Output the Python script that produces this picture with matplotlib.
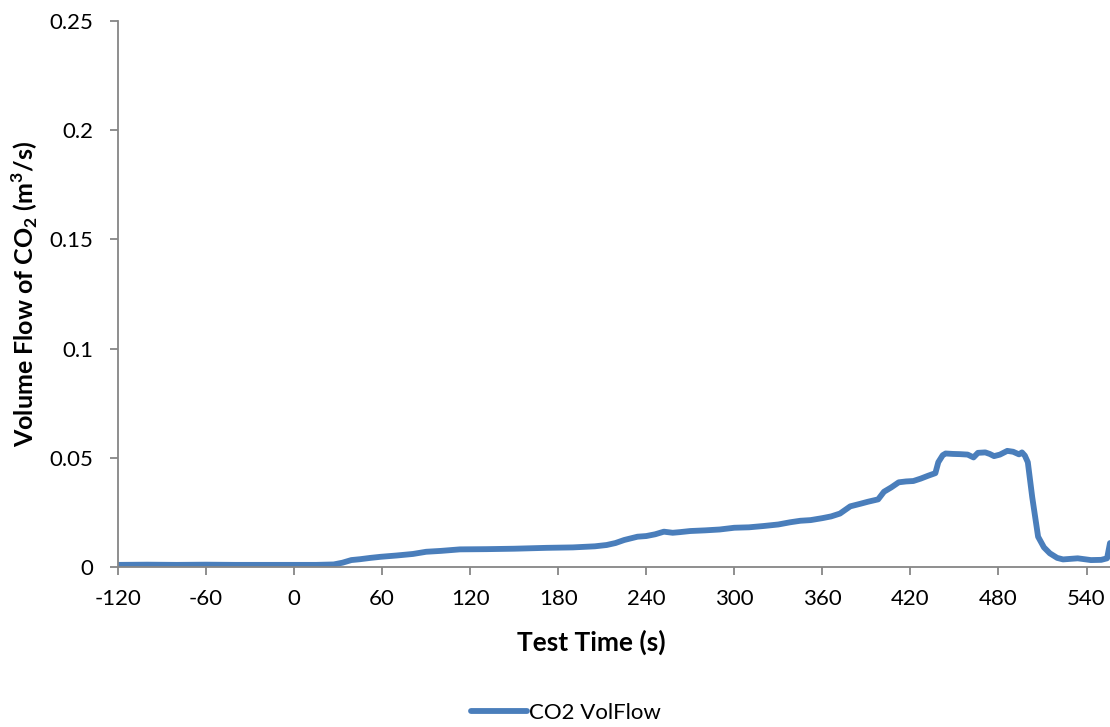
import matplotlib
matplotlib.use("Agg")
import matplotlib.pyplot as plt

# test time (s) and CO2 volume flow (m3/s)
time_s = [-120, -100, -80, -60, -40, -20, 0, 15, 27, 33, 39, 45, 52, 59, 70, 81,
          90, 100, 113, 131, 150, 172, 190, 205, 213, 219, 225, 234, 240, 246,
          252, 258, 263, 270, 280, 290, 300, 310, 320, 330, 338, 345, 352, 360,
          366, 372, 379, 386, 391, 398, 402, 407, 412, 417, 422, 427, 432, 437,
          439, 442, 444, 449, 454, 459, 463, 466, 471, 474, 477, 481, 486, 490,
          494, 496, 498, 500, 503, 507, 511, 515, 520, 524, 534, 543, 550, 554, 556]
co2_flow = [0.0010, 0.0011, 0.0010, 0.0011, 0.0010, 0.0010, 0.0010, 0.0010, 0.0012,
            0.0020, 0.0032, 0.0036, 0.0042, 0.0047, 0.0053, 0.0060, 0.0070, 0.0074,
            0.0081, 0.0082, 0.0084, 0.0088, 0.0090, 0.0095, 0.0101, 0.0110, 0.0124,
            0.0139, 0.0142, 0.0150, 0.0162, 0.0157, 0.0160, 0.0165, 0.0168, 0.0172,
            0.0180, 0.0182, 0.0188, 0.0195, 0.0205, 0.0212, 0.0215, 0.0224, 0.0232,
            0.0245, 0.0278, 0.0290, 0.0299, 0.0310, 0.0345, 0.0365, 0.0388, 0.0392,
            0.0394, 0.0405, 0.0418, 0.0430, 0.0480, 0.0512, 0.0520, 0.0518, 0.0517,
            0.0515, 0.0502, 0.0523, 0.0525, 0.0518, 0.0508, 0.0515, 0.0532, 0.0528,
            0.0516, 0.0525, 0.0510, 0.0480, 0.0320, 0.0139, 0.0090, 0.0063, 0.0042,
            0.0035, 0.0040, 0.0032, 0.0033, 0.0040, 0.0110]
x_ticks = list(range(-120, 541, 60))
y_ticks = [0, 0.05, 0.1, 0.15, 0.2, 0.25]
y_tick_labels = ['0', '0.05', '0.1', '0.15', '0.2', '0.25']

plt.rcParams['font.family'] = ['Lato', 'DejaVu Sans']
plt.rcParams['axes.unicode_minus'] = False
plt.rcParams['mathtext.fontset'] = 'custom'
plt.rcParams['mathtext.rm'] = 'Lato'
plt.rcParams['mathtext.bf'] = 'Lato:bold'

fig = plt.figure(figsize=(11.1, 7.27), dpi=100)
ax = fig.add_axes([0.1063, 0.22, 0.8937, 0.751])

line, = ax.plot(time_s, co2_flow, color='#4A7EBB', lw=4.2,
                solid_joinstyle='round', solid_capstyle='round',
                label='CO2 VolFlow')

ax.set_xlim(-120, 556)
ax.set_ylim(0, 0.25)
ax.set_xticks(x_ticks)
ax.set_yticks(y_ticks)
ax.set_yticklabels(y_tick_labels)

grey = '#868686'
for side in ['top', 'right']:
    ax.spines[side].set_visible(False)
for side in ['left', 'bottom']:
    ax.spines[side].set_color(grey)
    ax.spines[side].set_linewidth(1.3)
ax.tick_params(colors=grey, labelcolor='black', labelsize=16,
               length=6, width=1.3, direction='out')
ax.tick_params(axis='x', pad=10)
ax.tick_params(axis='y', pad=12)

ax.set_xlabel('Test Time (s)', fontsize=19, fontweight='bold', va='center')
ax.xaxis.set_label_coords(0.477, -0.137)
ax.set_ylabel(r'Volume Flow of CO$_\mathbf{2}$ (m$^\mathbf{3}$/s)',
              fontsize=18, fontweight='bold', va='center')
ax.yaxis.set_label_coords(-0.094, 0.5)

fig.legend(handles=[line], loc='center', bbox_to_anchor=(0.51, 0.019),
           frameon=False, fontsize=16, handlelength=2.5, handletextpad=0.1)

fig.savefig('out.png', dpi=100)
